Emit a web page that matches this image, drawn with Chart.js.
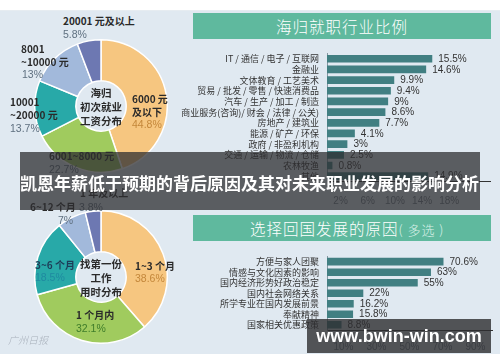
<!DOCTYPE html>
<html><head><meta charset="utf-8">
<script src="https://cdn.jsdelivr.net/npm/chart.js@4.4.0/dist/chart.umd.min.js"></script>
<style>
html,body{margin:0;padding:0;width:500px;height:362px;overflow:hidden;background:#fff;font-family:"Noto Sans CJK SC",sans-serif;}
#panel{position:absolute;left:0;top:10px;width:500px;height:343px;background:#e0e9f1;border-top:1px solid #e6ecf1;}
canvas{position:absolute;}
.t{position:absolute;white-space:nowrap;line-height:1;font-size:10px;}
.b{font-weight:bold;color:#2a2a2a;}
.g{color:#5f7080;font-family:"Liberation Sans",Arial,sans-serif;font-size:10.5px;}
.o{color:#c4873a;font-family:"Liberation Sans",Arial,sans-serif;font-size:10.5px;}
.c{position:absolute;width:60px;text-align:center;font-weight:bold;font-size:10.5px;color:#2a2a2a;line-height:14px;}
.banner{position:absolute;left:193px;width:298px;height:26px;background:#5fb99e;color:#fff;font-size:15.5px;line-height:26px;}
</style></head>
<body>
<div id="panel"></div>
<canvas id="pie1" width="134" height="134" style="left:34px;top:39px"></canvas>
<canvas id="pie2" width="134" height="134" style="left:34px;top:210px"></canvas>
<div class="banner" style="top:13px;text-align:center;font-weight:300;letter-spacing:1px;">海归就职行业比例</div>
<div class="banner" style="top:215px;padding-left:57px;box-sizing:border-box;font-weight:300;letter-spacing:1px;">选择回国发展的原因<span style="color:#d9f0e8;font-size:13px;">( 多选 )</span></div>
<canvas id="bar1" width="320" height="170" style="left:180px;top:40px"></canvas>
<canvas id="bar2" width="320" height="119" style="left:180px;top:243px"></canvas>

<!-- top pie labels -->
<div class="t b" style="left:63px;top:16px">20001 元及以上</div>
<div class="t g" style="left:63px;top:29px">5.8%</div>
<div class="t b" style="left:21px;top:44px">8001</div>
<div class="t b" style="left:21px;top:57px">~10000 元</div>
<div class="t g" style="left:22px;top:69px">13%</div>
<div class="t b" style="left:10px;top:97px">10001</div>
<div class="t b" style="left:10px;top:110px">~20000 元</div>
<div class="t g" style="left:10px;top:123px">13.7%</div>
<div class="t b" style="left:132px;top:94px">6000 元</div>
<div class="t b" style="left:132px;top:107px">及以下</div>
<div class="t o" style="left:132px;top:119px">44.8%</div>
<div class="t b" style="left:49px;top:151px">6001~8000 元</div>
<div class="t g" style="left:49px;top:164px">22.7%</div>
<div class="c" style="left:71px;top:86px">海归<br>初次就业<br>工资分布</div>

<!-- bottom pie labels -->
<div class="t b" style="left:80px;top:188px">1 年及以上</div>
<div class="t b" style="left:30px;top:202px">6~12 个月</div>
<div class="t g" style="left:79px;top:202px">3.8%</div>
<div class="t g" style="left:58px;top:215px">7%</div>
<div class="t b" style="left:35px;top:260px;color:#1d3d58">3~6 个月</div>
<div class="t g" style="left:35px;top:272px;color:#1f8aa0">18.5%</div>
<div class="t b" style="left:135px;top:261px">1~3 个月</div>
<div class="t o" style="left:135px;top:273px">38.6%</div>
<div class="t b" style="left:76px;top:310px">1 个月内</div>
<div class="t g" style="left:76px;top:323px;color:#3f7d2a">32.1%</div>
<div class="c" style="left:71px;top:257px">找第一份<br>工作<br>用时分布</div>
<div class="t" style="left:8px;top:335px;color:#a8b0bb;font-style:italic;font-weight:300;font-size:10px">广州日报</div>

<!-- overlays -->
<div style="position:absolute;left:20px;top:152px;width:460px;height:58px;background:rgba(45,45,48,0.75);"></div>
<div class="t" style="left:20px;top:174px;color:#fff;font-weight:bold;font-size:17px;">凯恩年薪低于预期的背后原因及其对未来职业发展的影响分析</div>
<div style="position:absolute;left:307px;top:319px;width:184px;height:34px;background:rgba(45,45,48,0.8);color:#fff;font-family:'Liberation Sans',Arial,sans-serif;font-weight:bold;font-size:18px;line-height:34px;text-align:center;">www.bwin-win.com</div>

<script>
// ---- data ----
const salaryLabels = ["6000 元及以下", "6001~8000 元", "10001~20000 元", "8001~10000 元", "20001 元及以上"];
const salaryValues = [44.8, 22.7, 13.7, 13, 5.8];
const jobTimeLabels = ["1~3 个月", "1 个月内", "3~6 个月", "6~12 个月", "1 年及以上"];
const jobTimeValues = [38.6, 32.1, 18.5, 7, 3.8];
const industryLabels = ["IT / 通信 / 电子 / 互联网", "金融业", "文体教育 / 工艺美术", "贸易 / 批发 / 零售 / 快速消费品", "汽车 / 生产 / 加工 / 制造", "商业服务(咨询)/ 财会 / 法律 / 公关)", "房地产 / 建筑业", "能源 / 矿产 / 环保", "政府 / 非盈利机构", "交通 / 运输 / 物流 / 仓储", "农林牧渔", "其他"];
const industryValues = [15.5, 14.6, 9.9, 9.4, 9, 8.6, 7.7, 4.1, 3, 2.5, 0.8, 14.9];
const industryTicks = [2, 6, 10, 14, 18];
const reasonLabels = ["方便与家人团聚", "情感与文化因素的影响", "国内经济形势好政治稳定", "国内社会网络关系", "所学专业在国内发展前景", "奉献精神", "国家相关优惠政策"];
const reasonValues = [70.6, 63, 55, 22, 16.2, 15.8, 8.8];
const reasonTicks = [10, 30, 50, 70, 90];

const sliceColors = ["#f6c680", "#a0cb5e", "#28a9a8", "#a2b9db", "#6d78b2"];
const CJK = '"Noto Sans CJK SC", sans-serif';

function pie(id, labels, values) {
  new Chart(document.getElementById(id), {
    type: 'doughnut',
    data: { labels, datasets: [{ data: values, backgroundColor: sliceColors, borderColor: '#ffffff', borderWidth: 1.5, hoverOffset: 0 }] },
    options: { responsive: false, animation: false, events: [], cutout: '38%',
      plugins: { legend: { display: false }, tooltip: { enabled: false } } }
  });
}
pie('pie1', salaryLabels, salaryValues);
pie('pie2', jobTimeLabels, jobTimeValues);

const valueLabels = {
  id: 'valueLabels',
  afterDatasetsDraw(chart) {
    const ctx = chart.ctx, meta = chart.getDatasetMeta(0), data = chart.data.datasets[0].data;
    ctx.save();
    ctx.font = '10px "Liberation Sans", Arial, sans-serif';
    ctx.fillStyle = '#333';
    ctx.textBaseline = 'middle';
    meta.data.forEach((bar, i) => ctx.fillText(data[i] + '%', bar.x + 6, bar.y + 0.5));
    ctx.restore();
  }
};

function bar(id, labels, values, max, tickVals, padTop, padRight, xHeight, tickPad) {
  new Chart(document.getElementById(id), {
    type: 'bar',
    data: { labels, datasets: [{ data: values, backgroundColor: '#417f82', barPercentage: 0.72, categoryPercentage: 1 }] },
    options: {
      indexAxis: 'y', responsive: false, animation: false, events: [],
      layout: { padding: { top: padTop, right: padRight, left: 0, bottom: 0 } },
      plugins: { legend: { display: false }, tooltip: { enabled: false } },
      scales: {
        x: { min: 0, max: max,
          afterBuildTicks: s => { s.ticks = tickVals.map(v => ({ value: v })); },
          afterFit: s => { s.height = xHeight; },
          grid: { display: false, drawTicks: false },
          border: { display: true, color: '#333', width: 1 },
          ticks: { padding: tickPad, color: '#6f7d8a', font: { size: 10, family: '"Liberation Sans", Arial, sans-serif' }, callback: v => v + '%' } },
        y: {
          afterFit: s => { s.width = 147; },
          grid: { display: false, drawTicks: false },
          border: { display: true, color: '#8796a0', width: 1 },
          ticks: { padding: 8, color: '#333', autoSkip: false, font: { size: 9, family: CJK } } }
      }
    },
    plugins: [valueLabels]
  });
}
bar('bar1', industryLabels, industryValues, 24, industryTicks, 3.5, 10, 28.5, 14);
bar('bar2', reasonLabels, reasonValues, 100, reasonTicks, 5, 8, 32, 11);
</script>
</body></html>
